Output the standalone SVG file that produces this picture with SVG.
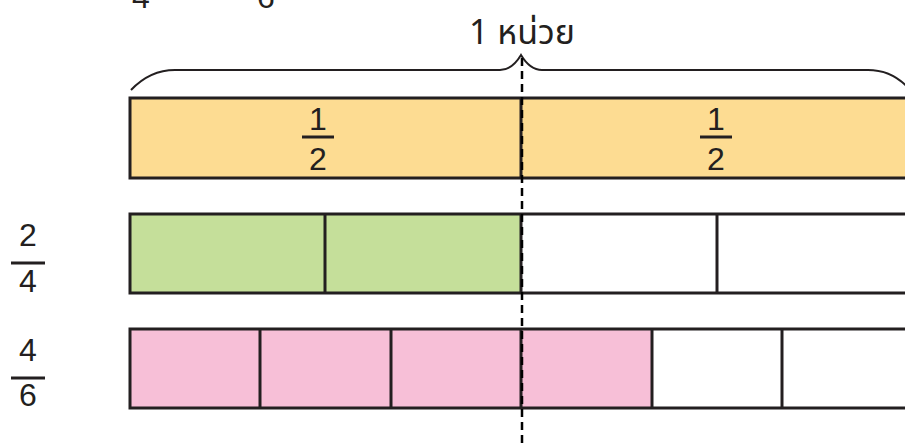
<svg xmlns="http://www.w3.org/2000/svg" width="905" height="445" viewBox="0 0 905 445">
<style>
.t{font-family:"Liberation Sans","Noto Sans",sans-serif;font-size:32px;fill:#231F20;text-anchor:middle}
.th{font-family:"Noto Sans Thai","Noto Sans","DejaVu Sans",sans-serif;font-size:34px;fill:#231F20;text-anchor:middle}
.bar{stroke:#231F20;stroke-width:3}
.div{stroke:#231F20;stroke-width:3}
.fl{stroke:#231F20;stroke-width:3}
</style>
<rect width="905" height="445" fill="#fff"/>
<g id="cut-text">
<text class="t" x="141" y="8">4</text>
<text class="t" x="266" y="8">6</text>
</g>
<g id="label-unit">
<text class="th" x="522" y="44">1 หน่วย</text>
<path d="M131,90 Q150,70 175,70 L500,70 Q512,70 521,55 Q530,70 542,70 L868,70 Q893,70 910,90" fill="none" stroke="#231F20" stroke-width="2"/>
</g>
<g id="bar-halves">
<rect class="bar" x="130" y="98" width="790" height="80" fill="#FDDC92"/>
<line class="div" x1="521" y1="98" x2="521" y2="178"/>
<text class="t" x="318" y="130">1</text>
<line class="fl" x1="302" y1="137" x2="334" y2="137"/>
<text class="t" x="318" y="170">2</text>
<text class="t" x="716" y="130">1</text>
<line class="fl" x1="700" y1="137" x2="732" y2="137"/>
<text class="t" x="716" y="170">2</text>
</g>
<g id="bar-quarters">
<rect x="130" y="214" width="391" height="79" fill="#C5DF9A"/>
<rect class="bar" x="130" y="214" width="790" height="79" fill="none"/>
<line class="div" x1="325" y1="214" x2="325" y2="293"/>
<line class="div" x1="521" y1="214" x2="521" y2="293"/>
<line class="div" x1="717" y1="214" x2="717" y2="293"/>
</g>
<g id="bar-sixths">
<rect x="130" y="329" width="521" height="79" fill="#F7BFD7"/>
<rect class="bar" x="130" y="329" width="790" height="79" fill="none"/>
<line class="div" x1="260" y1="329" x2="260" y2="408"/>
<line class="div" x1="391" y1="329" x2="391" y2="408"/>
<line class="div" x1="521" y1="329" x2="521" y2="408"/>
<line class="div" x1="652" y1="329" x2="652" y2="408"/>
<line class="div" x1="782" y1="329" x2="782" y2="408"/>
</g>
<g id="frac-2-4">
<text class="t" x="28" y="246">2</text>
<line class="fl" x1="11" y1="263" x2="45" y2="263"/>
<text class="t" x="28" y="292">4</text>
</g>
<g id="frac-4-6">
<text class="t" x="28" y="361">4</text>
<line class="fl" x1="11" y1="378" x2="45" y2="378"/>
<text class="t" x="28" y="406">6</text>
</g>
<g id="connectors">
<line x1="522" y1="58" x2="522" y2="445" stroke="#000" stroke-width="2.5" stroke-dasharray="8,5"/>
</g>
</svg>
